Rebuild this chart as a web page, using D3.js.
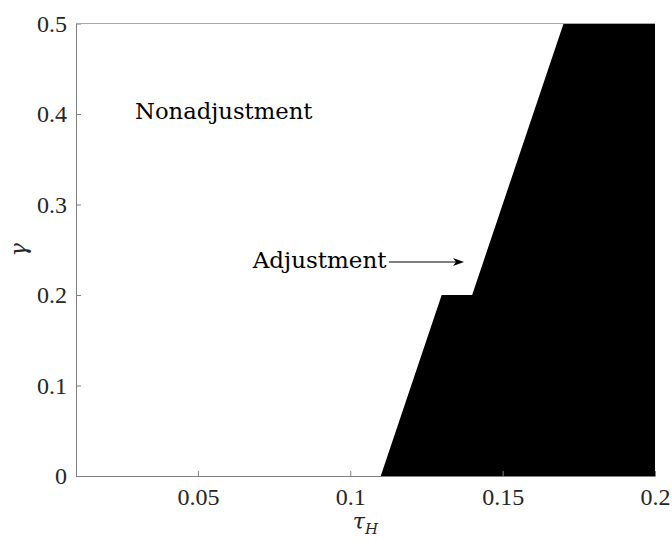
<!DOCTYPE html>
<html>
<head>
<meta charset="utf-8">
<script src="https://cdn.jsdelivr.net/npm/d3@7"></script>
<style>
  body { margin: 0; background: #fff; }
  text { font-family: "DejaVu Serif", serif; fill: #262626; }
</style>
</head>
<body>
<div id="chart"></div>
<script>
// region boundary (tau_H, gamma), black = adjustment region
const boundaryTau = [0.11, 0.13, 0.14, 0.17, 0.2, 0.2];
const boundaryGamma = [0, 0.2, 0.2, 0.5, 0.5, 0];

const xTicks = [0.05, 0.1, 0.15, 0.2];
const yTicks = [0, 0.1, 0.2, 0.3, 0.4, 0.5];

const width = 672, height = 540;
const margin = {top: 23.5, right: 17, bottom: 64, left: 76};

const svg = d3.select('#chart').append('svg')
    .attr('width', width)
    .attr('height', height);

const x = d3.scaleLinear()
    .domain([0.01, 0.2])
    .range([margin.left, width - margin.right]);

const y = d3.scaleLinear()
    .domain([0, 0.5])
    .range([height - margin.bottom, margin.top]);

const pts = boundaryTau.map((t, i) => [x(t), y(boundaryGamma[i])]);

svg.append('path')
    .attr('d', d3.line()(pts) + 'Z')
    .attr('fill', '#000');

// axes
const xAxis = svg.append('g')
    .attr('transform', `translate(0,${y(0)})`)
    .call(d3.axisBottom(x).tickValues(xTicks).tickSizeInner(-5).tickSizeOuter(0).tickPadding(12)
      .tickFormat(d => String(d)));

const yAxis = svg.append('g')
    .attr('transform', `translate(${x(0.01)},0)`)
    .call(d3.axisLeft(y).tickValues(yTicks).tickSizeInner(-5).tickSizeOuter(0).tickPadding(9)
      .tickFormat(d => String(d)));

[xAxis, yAxis].forEach(g => {
  g.select('.domain').attr('stroke', '#808080').attr('stroke-width', 1);
  g.selectAll('.tick line').attr('stroke', '#808080');
  g.selectAll('.tick text')
      .style('font-family', '"Liberation Serif", serif')
      .style('font-size', '24px')
      .attr('fill', '#262626');
});

// box top line
svg.append('line')
    .attr('x1', x(0.01)).attr('x2', x(0.2))
    .attr('y1', y(0.5)).attr('y2', y(0.5))
    .attr('stroke', '#aaa');

// axis labels
svg.append('text')
    .attr('x', x(0.105))
    .attr('y', 529)
    .attr('text-anchor', 'middle')
    .style('font-size', '22px')
    .style('font-style', 'italic')
    .html('τ<tspan dy="5" font-size="15px">H</tspan>');

svg.append('text')
    .attr('transform', `translate(26,${y(0.25)}) rotate(-90)`)
    .attr('text-anchor', 'middle')
    .style('font-size', '22px')
    .style('font-style', 'italic')
    .text('γ');

// annotations
svg.append('text')
    .attr('x', x(0.0294))
    .attr('y', 119)
    .style('font-size', '22.7px')
    .style('fill', '#000')
    .text('Nonadjustment');

svg.append('text')
    .attr('x', x(0.068))
    .attr('y', 268)
    .style('font-size', '23px')
    .style('fill', '#000')
    .text('Adjustment');

const arrowY = 262, arrowX0 = 389, arrowX1 = 464;
svg.append('line')
    .attr('x1', arrowX0).attr('x2', arrowX1 - 6)
    .attr('y1', arrowY).attr('y2', arrowY)
    .attr('stroke', '#000').attr('stroke-width', 1);
svg.append('path')
    .attr('d', `M${arrowX1},${arrowY} L${arrowX1 - 11},${arrowY - 4} L${arrowX1 - 8},${arrowY} L${arrowX1 - 11},${arrowY + 4}Z`)
    .attr('fill', '#000');
</script>
</body>
</html>
